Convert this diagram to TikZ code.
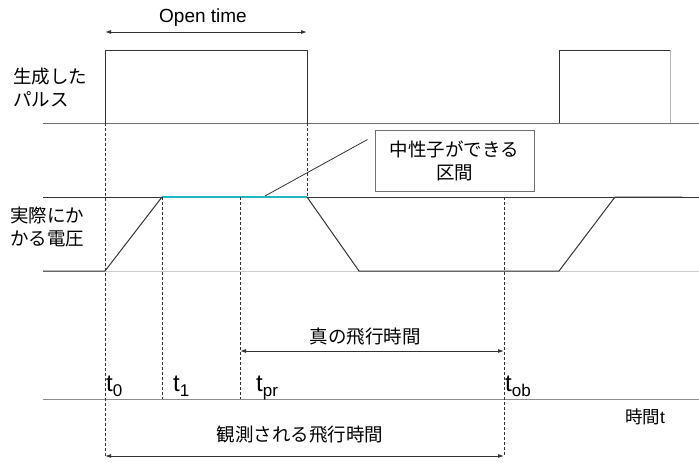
\documentclass[tikz,border=0pt]{standalone}
\usepackage{fontspec}
\setmainfont{Liberation Sans}
\newfontfamily\jpfont{Noto Sans CJK JP}
\usetikzlibrary{arrows.meta,calc}
\definecolor{dk}{HTML}{333333}
\definecolor{md}{HTML}{707070}
\definecolor{lt}{HTML}{CCCCCC}
\definecolor{cy}{HTML}{20B8C0}
\newcommand{\tlab}[2]{#1\raisebox{-5pt}{\fontsize{17}{17}\selectfont #2}}
\begin{document}
\begin{tikzpicture}[x=1pt,y=-1pt,
  jtext/.style={font=\jpfont\fontsize{18.5}{23}\selectfont, inner sep=0pt},
  ttext/.style={font=\fontsize{24}{24}\selectfont, inner sep=0pt, anchor=base west},
  guide/.style={dk, line width=0.9pt, dash pattern=on 3pt off 2pt},
  wave/.style={dk, line width=1pt},
  dbl/.style={dk, line width=0.9pt, {Latex[length=6pt,width=4pt]}-{Latex[length=6pt,width=4pt]}},
  callout/.style={draw=md, line width=1pt, fill=white, minimum width=159pt, minimum height=61pt, inner sep=0pt, align=center}
]
\useasboundingbox (0,0) rectangle (699,463);

% reference coordinates
\coordinate (pL) at (43,123);  \coordinate (pR) at (699,123);
\coordinate (hL) at (43,197);  \coordinate (hR) at (699,197);
\coordinate (lL) at (43,271);  \coordinate (lR) at (699,271);
\coordinate (aL) at (43,399);  \coordinate (aR) at (699,399);

% horizontal reference lines
\draw[md, line width=1pt] (pL) -- (pR);
\draw[dk, line width=1pt] (hL) -- (hR);
\draw[lt, line width=1pt] (lL) -- (lR);
\draw[md!80, line width=1pt] (aL) -- (aR);

% generated pulses
\draw[dk, line width=1pt] (105,123) -- (105,50) -- (307,50) -- (307,123);
\draw[dk, line width=1pt] (559,123) -- (559,50) -- (670,50);
\draw[lt!70!gray, line width=1pt] (670,50) -- (670,123);

% actual voltage
\coordinate (v0) at (43,271);
\coordinate (v1) at (105,271);
\coordinate (v2) at (162,197);
\coordinate (v3) at (307,197);
\coordinate (v4) at (359,271);
\coordinate (v5) at (559,271);
\coordinate (v6) at (615,197);
\coordinate (v7) at (682,197);
\draw[wave] (v0) -- (v1) -- (v2);
\draw[cy, line width=1.2pt] (v2) -- (v3);
\draw[wave] (v3) -- (v4) -- (v5) -- (v6) -- (v7);

% dashed guides
\draw[guide] (105,123) -- (105,456);
\draw[guide] (307,123) -- (307,197);
\draw[guide] (162,197) -- (162,399);
\draw[guide] (240,197) -- (240,399);
\draw[guide] (504,197) -- (504,456);

% open time
\coordinate (o1) at (105,32); \coordinate (o2) at (307,32);
\draw[dbl] (o1) -- (o2);
\node[font=\fontsize{19}{19}\selectfont, inner sep=0pt] (open) at (203,18) {Open time};

% true flight time
\coordinate (tf1) at (240,351); \coordinate (tf2) at (504,351);
\draw[dbl] (tf1) -- (tf2);
\node[jtext] (truelab) at (365,337) {真の飛行時間};

% observed flight time
\coordinate (of1) at (105,456); \coordinate (of2) at (504,456);
\draw[dbl] (of1) -- (of2);
\node[jtext] (obslab) at (300,435) {観測される飛行時間};

% left labels
\node[jtext, anchor=west, align=left] (pulselab) at (13,87) {生成した\\パルス};
\node[jtext, anchor=west, align=left] (voltlab) at (10,227) {実際にか\\かる電圧};

% callout
\node[callout, jtext] (neut) at (454.5,160.5) {中性子ができる\\区間};
\coordinate (lead) at (265,196);
\draw[dk, line width=0.8pt] (lead) -- ($(neut.west)+(-7,-21)$);

% time labels
\node[ttext] (t0) at (106,391) {\tlab{t}{0}};
\node[ttext] (t1) at (173,391) {\tlab{t}{1}};
\node[ttext] (tpr) at (256,391) {\tlab{t}{pr}};
\node[ttext] (tob) at (505,391) {\tlab{t}{ob}};
\node[inner sep=0pt] (axlab) at (645,417) {\jpfont\fontsize{17.5}{17.5}\selectfont 時間\fontspec{Liberation Sans}t};
\end{tikzpicture}
\end{document}
